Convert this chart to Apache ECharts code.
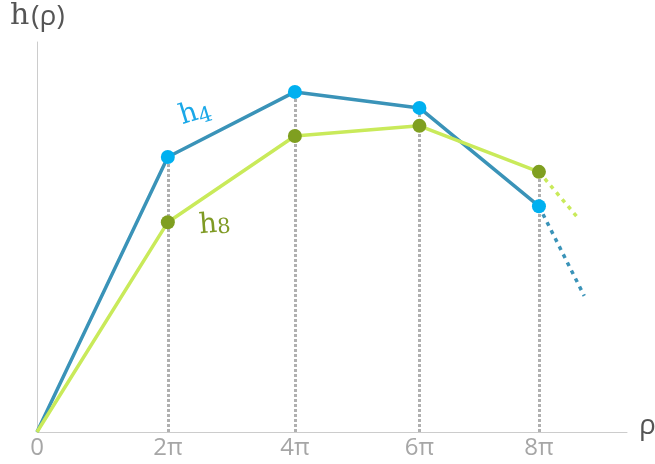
<!DOCTYPE html>
<html><head><meta charset="utf-8">
<script src="https://cdn.jsdelivr.net/npm/echarts@6/dist/echarts.min.js"></script>
<style>html,body{margin:0;padding:0;background:#fff}#c{width:655px;height:464px}</style>
</head><body><div id="c"></div>
<script>
// x positions in units of π
var xPos = [0, 2.08, 4.10, 6.08, 7.98];
var tickLabels = ['0', '2π', '4π', '6π', '8π'];
var h4 = [0, 0.705, 0.872, 0.831, 0.579];
var h8 = [0, 0.538, 0.759, 0.785, 0.667];
var h4Tail = [[7.98, 0.579], [8.70, 0.349]];
var h8Tail = [[7.98, 0.667], [8.60, 0.549]];

function pairs(xs, ys){ return xs.map(function(x,i){
  return i===0 ? {value:[x, ys[i]], symbol:'none'} : [x, ys[i]];}); }
var vlines = xPos.slice(1).map(function(x,i){
  return [{coord:[x,0]},{coord:[x,Math.max(h4[i+1],h8[i+1])]}];
});

var chart = echarts.init(document.getElementById('c'));
chart.setOption({
  animation:false,
  grid:{left:37,right:28,top:42,bottom:32},
  xAxis:{type:'value',min:0,max:9.38,
    axisLine:{lineStyle:{color:'#cccccc',width:1}},
    axisTick:{show:false},splitLine:{show:false},
    axisLabel:{customValues:xPos,color:'#a6a6a6',fontSize:24,fontFamily:'Open Sans',margin:4,
      formatter:function(v){var i=xPos.indexOf(v);return i>=0?tickLabels[i]:'';}}
  },
  yAxis:{type:'value',min:0,max:1,
    axisLine:{show:true,lineStyle:{color:'#cccccc',width:1}},
    axisTick:{show:false},splitLine:{show:false},axisLabel:{show:false}},
  series:[
    {type:'line',data:[],z:1,markLine:{silent:true,z:1,symbol:'none',label:{show:false},
      lineStyle:{color:'#b0b0b0',width:3,type:[3,2]},data:vlines}},
    {type:'line',data:h8Tail,showSymbol:false,lineStyle:{color:'#c9ea5a',width:3.5,type:[4,5]},z:2},
    {type:'line',data:h4Tail,showSymbol:false,lineStyle:{color:'#3a93b8',width:3.5,type:[4,5]},z:2},
    {type:'line',data:pairs(xPos,h4),symbol:'circle',symbolSize:14,
      lineStyle:{color:'#3a93b8',width:3.5},itemStyle:{color:'#00b0f0'},z:3},
    {type:'line',data:pairs(xPos,h8),symbol:'circle',symbolSize:14,
      lineStyle:{color:'#c9ea5a',width:3.5},itemStyle:{color:'#7f9f20'},z:4}
  ],
  graphic:[
    {type:'text',left:10,top:1,style:{text:'{a|h}{b|(ρ)}',rich:{
      a:{fill:'#555555',font:'30px "DejaVu Serif"',verticalAlign:'bottom'},
      b:{fill:'#555555',font:'28px "Open Sans"',verticalAlign:'bottom',padding:[0,0,0,2]}}}},
    {type:'text',left:639,top:412,style:{text:'ρ',fill:'#555555',font:'28px "Open Sans"'}},
    {type:'text',x:176,y:104,rotation:0.3,style:{text:'{a|h}{b|4}',rich:{
      a:{fill:'#1aa8e8',font:'28px "DejaVu Serif"',verticalAlign:'bottom'},
      b:{fill:'#1aa8e8',font:'21px "DejaVu Serif"',verticalAlign:'bottom',padding:[0,0,-3,0]}}}},
    {type:'text',x:198,y:212,rotation:0.08,style:{text:'{a|h}{b|8}',rich:{
      a:{fill:'#7f9a24',font:'28px "DejaVu Serif"',verticalAlign:'bottom'},
      b:{fill:'#7f9a24',font:'21px "DejaVu Serif"',verticalAlign:'bottom'}}}}
  ]
});
</script></body></html>
